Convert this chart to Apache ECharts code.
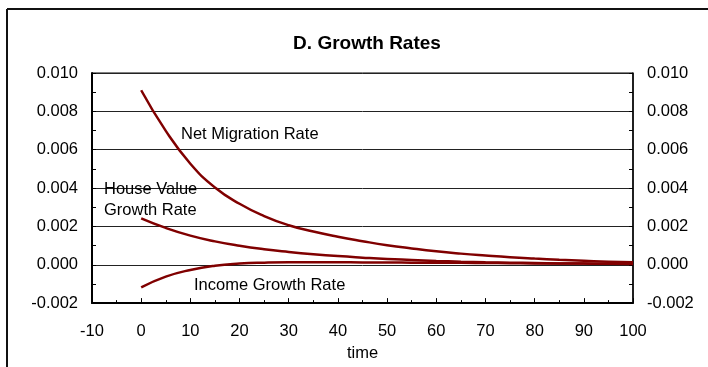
<!DOCTYPE html>
<html>
<head>
<meta charset="utf-8">
<script src="https://cdn.jsdelivr.net/npm/echarts@6/dist/echarts.min.js"></script>
<style>
  html, body { margin: 0; padding: 0; background: #fff; }
  #chart { width: 708px; height: 367px; }
</style>
</head>
<body>
<div id="chart"></div>
<script>
// Simulation time (years)
const times = [0, 5, 10, 15, 20, 25, 30, 35, 40, 45, 50, 55, 60, 65, 70, 75, 80, 85, 90, 95, 100];

// Growth rates along the adjustment path
const netMigrationRate = [0.0091, 0.00698, 0.00527, 0.00403, 0.00318, 0.00254, 0.00206, 0.00173, 0.00146, 0.00123, 0.00102, 0.00085, 0.0007, 0.00058, 0.00048, 0.00039, 0.00032, 0.00026, 0.00021, 0.00016, 0.00013];
const houseValueGrowth = [0.00242, 0.00192, 0.00152, 0.00122, 0.00099, 0.00081, 0.00067, 0.00055, 0.00045, 0.00037, 0.0003, 0.00025, 0.0002, 0.00016, 0.00013, 0.00011, 0.00009, 0.00007, 0.00006, 0.00005, 0.00004];
const incomeGrowth = [-0.00118, -0.00062, -0.00027, -0.00005, 0.00006, 0.00011, 0.00013, 0.00013, 0.00013, 0.00012, 0.00012, 0.00011, 0.0001, 0.0001, 0.00009, 0.00008, 0.00007, 0.00007, 0.00006, 0.00005, 0.00005];

// Axis settings
const xTicks = { min: -10, max: 100, step: 10 };
const yTicks = { min: -0.002, max: 0.010, step: 0.002 };

const pairs = (vals) => times.map((t, i) => [t, vals[i]]);
const font = 'Liberation Sans, Arial, sans-serif';
const fontSize = 16.5;
const lineColor = '#800000';

const yAxisBase = {
  type: 'value',
  min: yTicks.min,
  max: yTicks.max,
  interval: yTicks.step,
  axisLine: { show: true, onZero: false, lineStyle: { color: '#000', width: 2 } },
  axisTick: { show: true, inside: true, length: 4, lineStyle: { color: '#000' } },
  minorTick: { show: true, splitNumber: 2, length: 4, lineStyle: { color: '#000' } },
  axisLabel: {
    color: '#000', fontSize: fontSize, fontFamily: font, margin: 14,
    formatter: v => v.toFixed(3)
  }
};

const chart = echarts.init(document.getElementById('chart'), null, { renderer: 'canvas' });
chart.setOption({
  animation: false,
  backgroundColor: '#fff',
  title: {
    text: 'D. Growth Rates',
    left: 362, top: 29, textAlign: 'center',
    textStyle: { fontSize: 19, fontWeight: 'bold', color: '#000', fontFamily: font }
  },
  grid: { left: 92, right: 75, top: 73, bottom: 60, show: true, borderColor: '#000', borderWidth: 1 },
  xAxis: {
    type: 'value',
    min: xTicks.min, max: xTicks.max, interval: xTicks.step,
    name: 'time', nameLocation: 'middle', nameGap: 34,
    nameTextStyle: { color: '#000', fontSize: fontSize, fontFamily: font },
    axisLine: { show: true, onZero: false, lineStyle: { color: '#000', width: 2 } },
    axisTick: { show: true, inside: true, length: 5, lineStyle: { color: '#000' } },
    minorTick: { show: true, splitNumber: 2, length: 3, lineStyle: { color: '#000' } },
    splitLine: { show: false },
    axisLabel: { color: '#000', fontSize: fontSize, fontFamily: font, margin: 20 }
  },
  yAxis: [
    Object.assign({}, yAxisBase, {
      position: 'left',
      splitLine: { show: true, lineStyle: { color: '#222', width: 1 } }
    }),
    Object.assign({}, yAxisBase, {
      position: 'right',
      axisLine: { show: true, onZero: false, lineStyle: { color: '#000', width: 1.5 } },
      splitLine: { show: false }
    })
  ],
  series: [
    { name: 'Net Migration Rate', data: pairs(netMigrationRate) },
    { name: 'House Value Growth Rate', data: pairs(houseValueGrowth) },
    { name: 'Income Growth Rate', data: pairs(incomeGrowth) }
  ].map(s => Object.assign({
    type: 'line', smooth: 0.5, showSymbol: false, z: 3,
    lineStyle: { color: lineColor, width: 2.5 }
  }, s)),
  graphic: [
    // outer frame (top and left edges)
    { type: 'line', shape: { x1: 7, y1: 9, x2: 708, y2: 9 }, style: { stroke: '#111', lineWidth: 2 } },
    { type: 'line', shape: { x1: 7, y1: 9, x2: 7, y2: 367 }, style: { stroke: '#111', lineWidth: 2 } },
    // curve labels
    { type: 'text', left: 181, top: 126, z: 10, style: { text: 'Net Migration Rate', fontSize: fontSize, fontFamily: font, fill: '#000' } },
    { type: 'text', left: 104, top: 181, z: 10, style: { text: 'House Value', fontSize: fontSize, fontFamily: font, fill: '#000' } },
    { type: 'text', left: 104, top: 202, z: 10, style: { text: 'Growth Rate', fontSize: fontSize, fontFamily: font, fill: '#000' } },
    { type: 'text', left: 194, top: 277, z: 10, style: { text: 'Income Growth Rate', fontSize: fontSize, fontFamily: font, fill: '#000' } }
  ]
});
</script>
</body>
</html>
